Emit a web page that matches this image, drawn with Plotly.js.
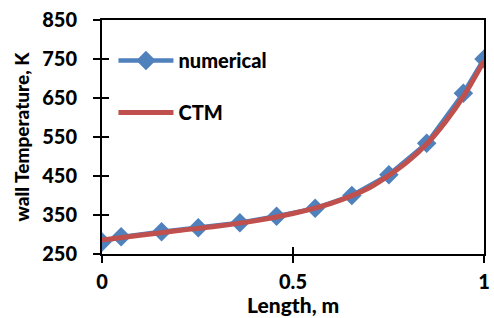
<!DOCTYPE html>
<html><head><meta charset="utf-8">
<script src="https://cdn.plot.ly/plotly-3.0.1.min.js"></script>
<style>html,body{margin:0;padding:0;background:#fff}</style>
</head><body>
<div id="chart" style="width:494px;height:318px"></div>
<script>
const numX = [0, 0.05, 0.156, 0.252, 0.361, 0.457, 0.558, 0.654, 0.751, 0.85, 0.946, 1.0];
const numY = [281, 294, 307, 317, 330, 347, 367, 400, 453, 534, 662, 750];
const ctmX = [0, 0.1, 0.2, 0.3, 0.4, 0.5, 0.6, 0.7, 0.75, 0.8, 0.85, 0.9, 0.95, 1.0];
const ctmY = [286, 298, 310, 321, 335, 354, 380, 420, 451, 487, 532, 590, 660, 745];
const xTicks = [0, 0.5, 1];
const xTickText = ['0', '0.5', '1'];
const yTicks = [250, 350, 450, 550, 650, 750, 850];
const xTitle = 'Length, m';
const yTitle = 'wall Temperature, K';

const font = 'Lato, "Liberation Sans", sans-serif';
const traces = [
  {x: numX, y: numY, name: 'numerical', mode: 'lines+markers', legendgroup: 'a',
   line: {color: '#4F81BD', width: 4.5}, marker: {symbol: 'diamond', size: 15, color: '#4F81BD'}},
  {x: ctmX, y: ctmY, name: 'CTM', mode: 'lines', legendgroup: 'b',
   line: {color: '#C0504D', width: 5, shape: 'spline', smoothing: 0.8}},
  {x: [numX[0]], y: [numY[0]], xaxis: 'x2', yaxis: 'y2', mode: 'markers', showlegend: false,
   hoverinfo: 'skip', marker: {opacity: 0}}
];
const layout = {
  width: 494, height: 318,
  margin: {l: 102, r: 10, t: 20, b: 64},
  paper_bgcolor: '#fff', plot_bgcolor: '#fff',
  font: {family: font, color: '#000', weight: 900},
  showlegend: true,
  legend: {x: 0.03, y: 0.91, xanchor: 'left', yanchor: 'top', bgcolor: 'rgba(0,0,0,0)',
           font: {family: font, size: 20, color: '#000', weight: 900}, itemwidth: 55,
           tracegroupgap: 23, traceorder: 'grouped'},
  xaxis: {range: [0, 1], tickvals: xTicks, ticktext: xTickText, ticks: 'outside', ticklen: 7,
          tickwidth: 1.5, tickcolor: '#000', showline: true, linecolor: '#000', linewidth: 2,
          mirror: true, showgrid: false, zeroline: false, ticklabelstandoff: 2,
          tickfont: {family: font, size: 20, color: '#000', weight: 900}},
  yaxis: {range: [250, 850], tickvals: yTicks, ticks: 'outside', ticklen: 7,
          tickwidth: 1.5, tickcolor: '#000', showline: true, linecolor: '#000', linewidth: 2,
          mirror: true, showgrid: false, zeroline: false, ticklabelstandoff: 12,
          tickfont: {family: font, size: 20, color: '#000', weight: 900},
          title: {text: yTitle, font: {family: font, size: 19, color: '#000', weight: 900}, standoff: 8}},
  xaxis2: {overlaying: 'x', range: [0, 1], tickvals: xTicks, ticks: 'inside', ticklen: 7,
           tickwidth: 1.5, tickcolor: '#000', showticklabels: false, showgrid: false, zeroline: false,
           showline: false},
  yaxis2: {overlaying: 'y', range: [250, 850], tickvals: yTicks, ticks: 'inside', ticklen: 7,
           tickwidth: 1.5, tickcolor: '#000', showticklabels: false, showgrid: false, zeroline: false,
           showline: false},
  annotations: [{text: xTitle, xref: 'paper', yref: 'paper', x: 0.5, y: 0, xanchor: 'center',
                 yanchor: 'middle', yshift: -50, showarrow: false, borderpad: 0,
                 font: {family: font, size: 21, color: '#000', weight: 900}}]
};
Plotly.newPlot('chart', traces, layout, {displayModeBar: false, staticPlot: true});
</script>
</body></html>
